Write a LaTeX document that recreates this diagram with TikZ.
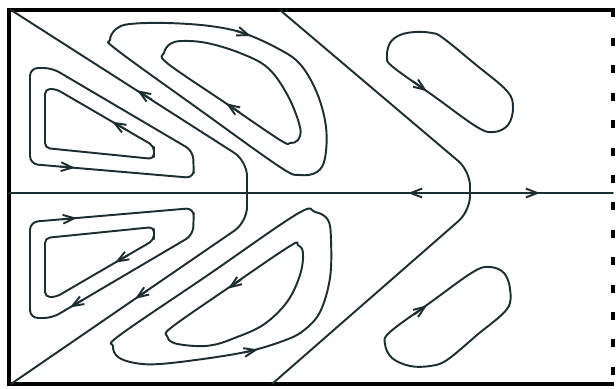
\documentclass[tikz,border=0pt]{standalone}
\usetikzlibrary{arrows.meta}
\definecolor{lc}{RGB}{28,46,50}
\begin{document}
\begin{tikzpicture}[x=0.02cm,y=-0.02cm,
  flow/.style={draw=lc, line width=1.1pt, line join=round, line cap=round},
  frame/.style={draw=black, line width=2.4pt, line join=miter},
  tip/.style={draw=lc, line width=1.1pt, -{Straight Barb[length=6.5pt,width=5pt,line width=1.1pt]}}]
\useasboundingbox (0,0) rectangle (616,389);
% frame
\draw[frame] (613,17) -- (613,10) -- (9,10) -- (9,384) -- (614,384);
\draw[black, line width=2.3pt, line cap=butt, dash pattern=on 4.5pt off 11.1pt] (613,38) -- (613,380);
% horizontal axis
\draw[flow] (9,193) -- (613,193);
% chevrons
\draw[flow, rounded corners=0.3cm] (11,10) -- (247,161) -- (247,222) -- (11,384);
\draw[flow, rounded corners=0.3cm] (280,10) -- (470,171) -- (470,211) -- (272,384);
% left triangles (top)
\draw[flow, rounded corners=0.16cm] (193.5,165) -- (194,178) -- (30,164) -- (30,68) -- (52,68) -- (193,151) -- cycle;
\draw[flow, rounded corners=0.1cm] (154,152) -- (154,159) -- (45,148) -- (45,89) -- (56,89) -- (154,146) -- cycle;
% left triangles (bottom)
\draw[flow, rounded corners=0.16cm] (193.5,221) -- (194,208) -- (30,222) -- (30,318) -- (52,318) -- (193,235) -- cycle;
\draw[flow, rounded corners=0.1cm] (154,234) -- (154,227) -- (45,238) -- (45,297) -- (56,297) -- (154,240) -- cycle;
% S loops (top)
\draw[flow] plot[smooth cycle, tension=0.6] coordinates {(117,50) (110,40) (116,29) (130,24) (167,23) (210,26) (243,33) (277,48) (300,64) (317,93) (326,127) (325,158) (317,172) (300,175) (280,167) (200,110)};
\draw[flow] plot[smooth cycle, tension=0.6] coordinates {(167,63) (164,53) (170,44) (182,41) (207,43) (240,53) (268,68) (288,96) (300,127) (298,140) (290,143) (280,140) (224,102)};
% S loops (bottom)
\draw[flow] plot[smooth cycle, tension=0.6] coordinates {(120,335) (113,346) (118,357) (135,363) (160,364) (210,358) (250,351) (283,341) (303,331) (320,312) (330,278) (331,240) (328,220) (315,212) (297,214) (208,275)};
\draw[flow] plot[smooth cycle, tension=0.6] coordinates {(172,327) (167,336) (174,343) (195,346) (213,345) (232,339) (263,325) (287,302) (300,275) (303,253) (298,245) (290,246) (231,286)};
% pills
\draw[flow] plot[smooth cycle, tension=0.6] coordinates {(393,67) (387,57) (390,43) (400,35) (415,32) (432,33) (443,38) (475,64) (507,91) (513,108) (508,125) (494,132) (477,127) (435,97)};
\draw[flow] plot[smooth cycle, tension=0.6] coordinates {(473,272) (490,267) (504,273) (510,289) (507,309) (477,335) (447,360) (430,366) (410,366) (392,358) (385,344) (390,332) (431,302)};
% arrow heads (top half)
\draw[tip] (60,166.6) -- (75,167.8);
\draw[tip] (127,130.3) -- (112,121.6);
\draw[tip] (152,99.8) -- (137,90.2);
\draw[tip] (240,112.7) -- (226,103.2);
\draw[tip] (237,31) -- (251,36);
\draw[tip] (413,81.3) -- (427,91.3);
\draw[tip] (420,193) -- (408,193);
\draw[tip] (528,193) -- (540,193);
% arrow heads (bottom half)
\draw[tip] (62,219.3) -- (77,218);
\draw[tip] (128,255.1) -- (115,262.7);
\draw[tip] (83,299.8) -- (70,307.4);
\draw[tip] (148,290) -- (135,298.9);
\draw[tip] (241,279.7) -- (228,288.6);
\draw[tip] (244,352.5) -- (258,349.5);
\draw[tip] (414,314.6) -- (427,305.2);
\end{tikzpicture}
\end{document}
